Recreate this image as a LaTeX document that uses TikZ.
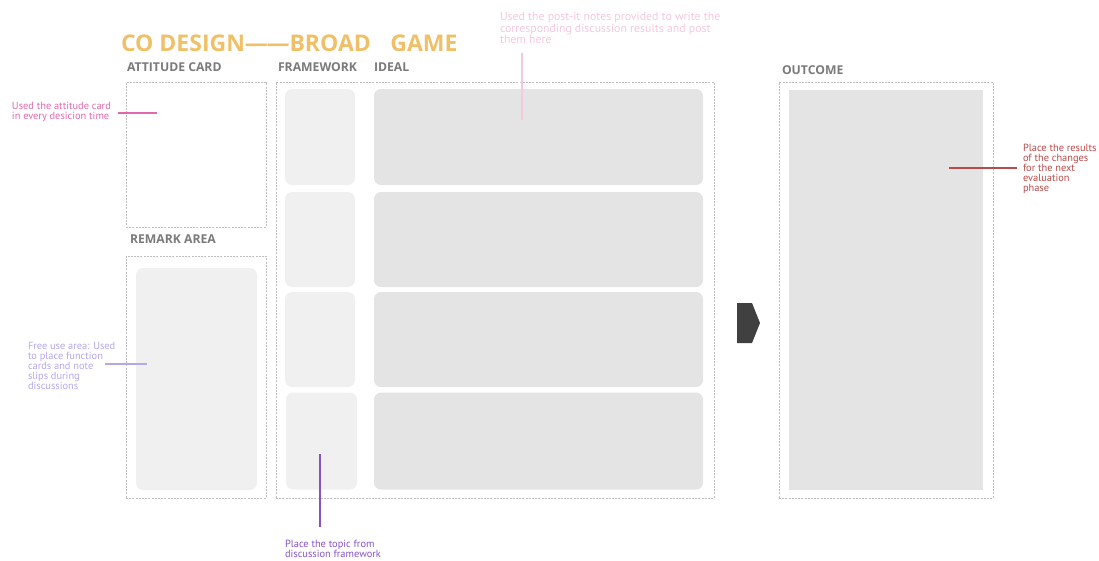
\documentclass[tikz,border=0pt]{standalone}
\usepackage{fontspec}
\setmainfont{PT Sans}
\newfontfamily\headfont{Open Sans}
\usetikzlibrary{positioning}
\definecolor{titlegold}{HTML}{F0C068}
\definecolor{headgray}{HTML}{7A7A7A}
\definecolor{dashgray}{HTML}{BDBDBD}
\definecolor{cellpale}{HTML}{F0F0F0}
\definecolor{cellgray}{HTML}{E4E4E4}
\definecolor{notepink}{HTML}{E068AC}
\definecolor{notepale}{HTML}{F5C8DE}
\definecolor{notelilac}{HTML}{B8A6EC}
\definecolor{notepurple}{HTML}{8652C8}
\definecolor{notered}{HTML}{B84A4A}

\begin{document}
\begin{tikzpicture}[x=1pt,y=-1pt,
  every node/.style={inner sep=0pt,outer sep=0pt},
  head/.style={font=\headfont\fontsize{12.2}{13}\selectfont\bfseries,text=headgray,anchor=west},
  zone/.style={draw=dashgray,dash pattern=on 2pt off 1.2pt,line width=0.9pt},
  cell/.style={fill=cellpale,rounded corners=7pt},
  card/.style={fill=cellgray,rounded corners=7pt},
  note/.style={font=\fontsize{10.4}{10}\selectfont,align=left,anchor=west},
  lead/.style={line width=1.2pt}]
\useasboundingbox (0,0) rectangle (1099,560);

% title and headings
\node[anchor=west,font=\headfont\fontsize{23}{24}\selectfont\bfseries,text=titlegold] (title) at (121,43) {CO DESIGN—\kern-1.5pt—BROAD\hspace{0.85em}GAME};
\node[head] (hAtt) at (127,67) {ATTITUDE CARD};
\node[head] (hFrame) at (278,67) {FRAMEWORK};
\node[head] (hIdeal) at (374,67) {IDEAL};
\node[head] (hOut) at (782,70) {OUTCOME};
\node[head] (hRemark) at (130,239) {REMARK AREA};

% dashed zones
\node[zone,minimum width=140,minimum height=145] (attZone) at (196,154.5) {};
\node[zone,minimum width=140,minimum height=242] (remZone) at (196,377) {};
\node[zone,minimum width=438,minimum height=416] (mainZone) at (495,290) {};
\node[zone,minimum width=214,minimum height=416] (outZone) at (886,290) {};

% cells
\node[cell,minimum width=121,minimum height=222] (remCell) at (196.5,379) {};
\node[cell,minimum width=70,minimum height=96] (fw1) at (320,137) {};
\node[cell,minimum width=70,minimum height=95] (fw2) at (320,239.5) {};
\node[cell,minimum width=70,minimum height=95] (fw3) at (320,339.5) {};
\node[cell,minimum width=71,minimum height=97] (fw4) at (321.5,441) {};
\node[card,minimum width=329,minimum height=96] (id1) at (538.5,137) {};
\node[card,minimum width=329,minimum height=95] (id2) at (538.5,239.5) {};
\node[card,minimum width=329,minimum height=95] (id3) at (538.5,339.5) {};
\node[card,minimum width=329,minimum height=97] (id4) at (538.5,441) {};
\node[fill=cellgray,minimum width=194,minimum height=400] (outCell) at (886,290) {};

% arrow to outcome
\fill[black!75] (737,303) -- (752,303) -- (760,323) -- (752,343) -- (737,343) -- cycle;

% notes
\node[note,text=notepink] (nAtt) at (12,111.5) {Used the attitude card\\in every desicion time};
\node[note,text=notepale,font=\fontsize{11.8}{10.5}\selectfont] (nPost) at (500,28) {Used the post-it notes provided to write the\\corresponding discussion results and post\\them here};
\node[note,text=notelilac] (nRemark) at (28,365.5) {Free use area: Used\\to place function\\cards and note\\slips during\\discussions};
\node[note,text=notepurple] (nTopic) at (285,549) {Place the topic from\\discussion framework};
\node[note,text=notered] (nResult) at (1023,168.5) {Place the results\\of the changes\\for the next\\evaluation\\phase};

\coordinate (tAtt) at (157,113);
\coordinate (fPost) at (522,53);
\coordinate (tPost) at (522,120);
\coordinate (fRemark) at (105,364);
\coordinate (tRemark) at (147,364);
\coordinate (fTopic) at (320,527);
\coordinate (tTopic) at (320,454);
\coordinate (fResult) at (1017,168);
\coordinate (tResult) at (949,168);

\draw[lead,notepink] (118,113) -- (tAtt);
\draw[lead,notepale] (fPost) -- (tPost);
\draw[lead,notelilac] (fRemark) -- (tRemark);
\draw[lead,notepurple] (fTopic) -- (tTopic);
\draw[lead,notered] (fResult) -- (tResult);
\end{tikzpicture}
\end{document}
